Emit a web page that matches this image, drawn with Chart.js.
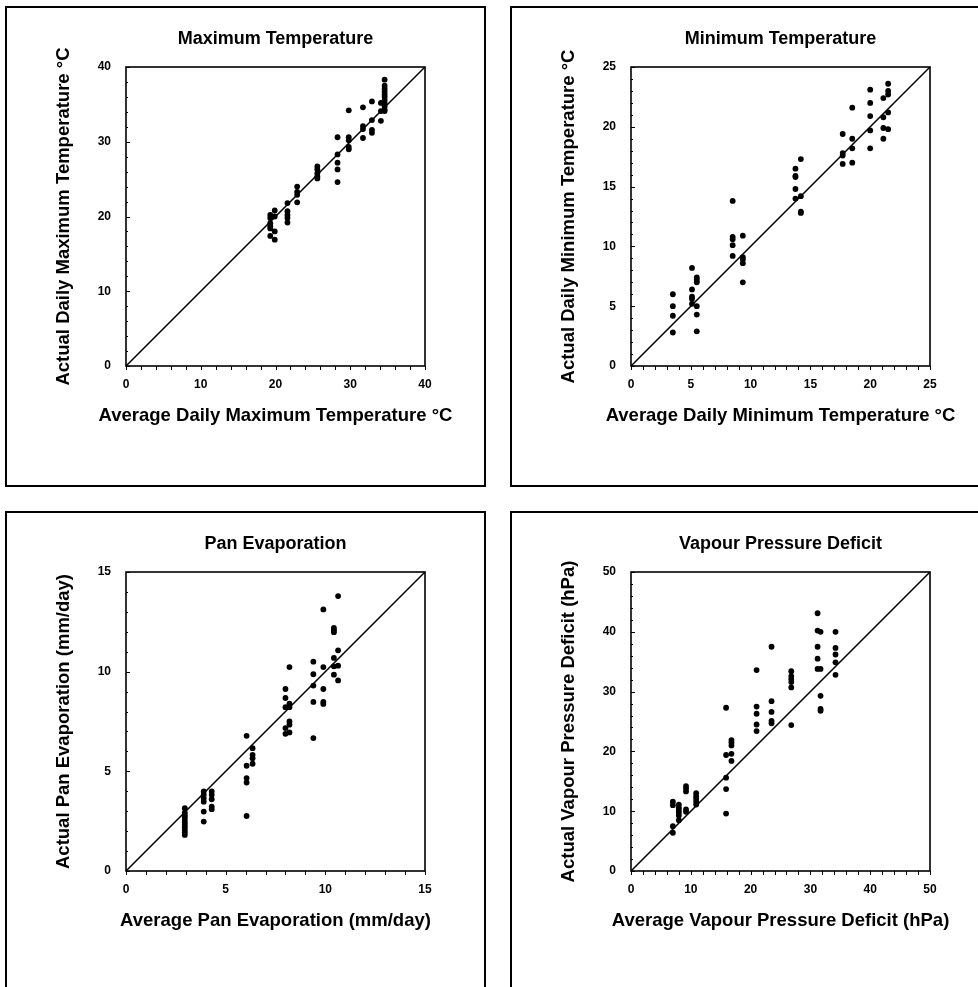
<!DOCTYPE html>
<html>
<head>
<meta charset="utf-8">
<script src="https://cdn.jsdelivr.net/npm/chart.js@4.4.1/dist/chart.umd.min.js"></script>
<style>
  html, body { margin: 0; padding: 0; background: #fff; overflow: hidden; }
  body { width: 978px; height: 987px; position: relative; }
  .panel { position: absolute; width: 477px; height: 477px; border: 2px solid #000; }
  .panel canvas { display: block; }
</style>
</head>
<body>
<div class="panel" style="left:5px;top:6px"><canvas id="maxTemp" width="477" height="477"></canvas></div>
<div class="panel" style="left:510px;top:6px"><canvas id="minTemp" width="477" height="477"></canvas></div>
<div class="panel" style="left:5px;top:511px"><canvas id="panEvap" width="477" height="477"></canvas></div>
<div class="panel" style="left:510px;top:511px"><canvas id="vpd" width="477" height="477"></canvas></div>
<script>
// each site: long-term average (x) and the actual daily values seen there (y)
const maxTempAvg = [19.3, 19.9, 21.6, 22.9, 25.6, 28.3, 29.8, 31.7, 32.9, 34.1, 34.6];
const maxTempActual = [
  [20.2, 19.8, 19.1, 18.7, 18.4, 17.4],
  [20.8, 20.0, 18.0, 16.9],
  [21.8, 20.7, 20.2, 19.8, 19.2],
  [24.0, 23.3, 22.9, 21.9],
  [26.7, 26.3, 25.8, 25.4, 25.1],
  [30.6, 28.3, 27.2, 26.3, 24.6],
  [34.2, 30.6, 30.2, 29.3, 29.0],
  [34.6, 32.1, 31.7, 30.5],
  [35.4, 32.9, 31.6, 31.2],
  [35.2, 34.1, 32.8],
  [38.3, 37.5, 37.1, 36.7, 36.3, 36.0, 35.6, 35.2, 34.7, 34.3, 34.1]
];

const minTempAvg = [3.5, 5.1, 5.5, 8.5, 9.35, 13.75, 14.2, 17.7, 18.5, 20.0, 21.1, 21.5];
const minTempActual = [
  [6.0, 5.0, 4.2, 2.8],
  [8.2, 6.4, 5.8, 5.6, 5.2],
  [7.4, 7.2, 7.0, 5.0, 4.3, 2.9],
  [13.8, 10.8, 10.6, 10.1, 9.2],
  [10.9, 9.1, 8.9, 8.6, 7.0],
  [16.5, 15.9, 15.8, 14.8, 14.0],
  [17.3, 14.2, 12.9, 12.8],
  [19.4, 17.8, 17.6, 16.9],
  [21.6, 19.0, 18.2, 17.0],
  [23.1, 22.0, 20.9, 19.7, 18.2],
  [22.4, 20.8, 19.9, 19.0],
  [23.6, 23.0, 22.7, 21.2, 19.8]
];

const panEvapAvg = [2.95, 3.9, 4.3, 6.05, 6.35, 8.0, 8.2, 9.4, 9.9, 10.43, 10.64];
const panEvapActual = [
  [3.15, 2.93, 2.81, 2.70, 2.56, 2.43, 2.31, 2.19, 2.06, 1.93, 1.81],
  [3.99, 3.82, 3.65, 3.48, 2.98, 2.48],
  [3.99, 3.82, 3.60, 3.23, 3.10],
  [6.78, 5.28, 4.66, 4.44, 2.76],
  [6.16, 5.83, 5.66, 5.38],
  [9.13, 8.68, 8.22, 7.17, 6.88],
  [10.23, 8.39, 8.22, 7.50, 7.34, 6.95],
  [10.50, 9.87, 9.30, 8.48, 6.67],
  [13.12, 10.23, 9.13, 8.48, 8.38],
  [12.19, 12.08, 11.98, 10.69, 10.27, 9.85],
  [13.79, 11.07, 10.30, 9.56]
];

const vpdAvg = [7.0, 8.0, 9.2, 10.9, 15.9, 16.8, 21.0, 23.5, 26.8, 31.2, 31.7, 34.2];
const vpdActual = [
  [11.6, 11.0, 7.5, 6.4],
  [11.1, 10.6, 10.2, 9.8, 9.3, 8.5],
  [14.2, 13.8, 13.3, 10.3, 9.9],
  [13.0, 12.5, 12.1, 11.6, 11.1],
  [27.3, 19.4, 15.6, 13.7, 9.6],
  [21.9, 21.5, 21.0, 19.6, 18.4],
  [33.6, 27.5, 26.3, 24.5, 23.4],
  [37.5, 28.4, 26.6, 25.1, 24.7],
  [33.4, 32.6, 32.1, 31.6, 30.7, 24.4],
  [43.1, 40.2, 37.5, 35.5, 33.8],
  [40.0, 33.8, 29.3, 27.1, 26.8],
  [40.0, 37.3, 36.2, 34.9, 32.8]
];

// axis ranges: [max, labelled step, minor tick step]
const maxTempAxis = [40, 10, 2];
const minTempAxis = [25, 5, 1];
const panEvapAxis = [15, 5, 1];
const vpdAxis = [50, 10, 2];

const FONT = "'Liberation Sans', Arial, Helvetica, sans-serif";

// plot frame plus the small tick marks (inside on y, below on x)
const frameTicks = {
  id: 'frameTicks',
  beforeDraw(chart) {
    // x title is wider than the plot; give it room so it isn't squeezed
    const x = chart.scales.x;
    x.left = chart.chartArea.left - 80;
    x.right = chart.chartArea.right + 80;
  },
  afterDraw(chart, args, opts) {
    const {ctx, chartArea: a, scales: {x, y}} = chart;
    ctx.save();
    ctx.strokeStyle = '#000';
    ctx.lineWidth = 1;
    for (let v = 0; v <= opts.max + 1e-9; v += opts.minor) {
      const major = Math.abs(v / opts.step - Math.round(v / opts.step)) < 1e-6;
      const py = Math.round(y.getPixelForValue(v)) + 0.5;
      ctx.beginPath();
      ctx.moveTo(a.left, py);
      ctx.lineTo(a.left + (major ? 4 : 2), py);
      ctx.stroke();
      const px = Math.round(x.getPixelForValue(v)) + 0.5;
      ctx.beginPath();
      ctx.moveTo(px, a.bottom);
      ctx.lineTo(px, a.bottom + 4);
      ctx.stroke();
    }
    ctx.lineWidth = 1.6;
    ctx.strokeRect(a.left, a.top, a.right - a.left, a.bottom - a.top);
    ctx.restore();
  }
};

function makeChart(id, title, xTitle, yTitle, avg, actual, axis) {
  const [max, step, minor] = axis;
  const points = [];
  avg.forEach((xv, i) => actual[i].forEach(yv => points.push({x: xv, y: yv})));

  const tickFont = {family: FONT, size: 12, weight: 'bold'};
  const titleFont = {family: FONT, size: 18, weight: 'bold'};
  const axisTitleFont = {family: FONT, size: 18.5, weight: 'bold'};

  return new Chart(document.getElementById(id), {
    type: 'scatter',
    data: {
      datasets: [
        {
          type: 'line',
          data: [{x: 0, y: 0}, {x: max, y: max}],
          borderColor: '#000',
          borderWidth: 1.5,
          pointRadius: 0
        },
        {
          data: points,
          backgroundColor: '#000',
          borderWidth: 0,
          pointRadius: 2.9
        }
      ]
    },
    options: {
      responsive: false,
      animation: false,
      layout: {padding: {left: 46, right: 59, top: 20, bottom: 58}},
      plugins: {
        legend: {display: false},
        tooltip: {enabled: false},
        title: {
          display: true,
          text: title,
          fullSize: false,
          color: '#000',
          font: titleFont,
          padding: {top: 0, bottom: 17.4}
        },
        frameTicks: {max: max, step: step, minor: minor}
      },
      scales: {
        x: {
          type: 'linear',
          min: 0,
          max: max,
          afterFit: s => { s.height = 61; },
          grid: {display: false, drawTicks: false},
          border: {display: false},
          ticks: {stepSize: step, padding: 11, color: '#000', font: tickFont, maxRotation: 0},
          title: {display: true, text: xTitle, color: '#000', font: axisTitleFont, padding: 0}
        },
        y: {
          type: 'linear',
          min: 0,
          max: max,
          afterFit: s => { s.width = 73; },
          grid: {display: false, drawTicks: false},
          border: {display: false},
          ticks: {stepSize: step, padding: 15, color: '#000', font: tickFont},
          title: {display: true, text: yTitle, color: '#000', font: axisTitleFont, padding: 0}
        }
      }
    },
    plugins: [frameTicks]
  });
}

makeChart('maxTemp', 'Maximum Temperature',
  'Average Daily Maximum Temperature °C', 'Actual Daily Maximum Temperature °C',
  maxTempAvg, maxTempActual, maxTempAxis);
makeChart('minTemp', 'Minimum Temperature',
  'Average Daily Minimum Temperature °C', 'Actual Daily Minimum Temperature °C',
  minTempAvg, minTempActual, minTempAxis);
makeChart('panEvap', 'Pan Evaporation',
  'Average Pan Evaporation (mm/day)', 'Actual Pan Evaporation (mm/day)',
  panEvapAvg, panEvapActual, panEvapAxis);
makeChart('vpd', 'Vapour Pressure Deficit',
  'Average Vapour Pressure Deficit (hPa)', 'Actual Vapour Pressure Deficit (hPa)',
  vpdAvg, vpdActual, vpdAxis);
</script>
</body>
</html>
